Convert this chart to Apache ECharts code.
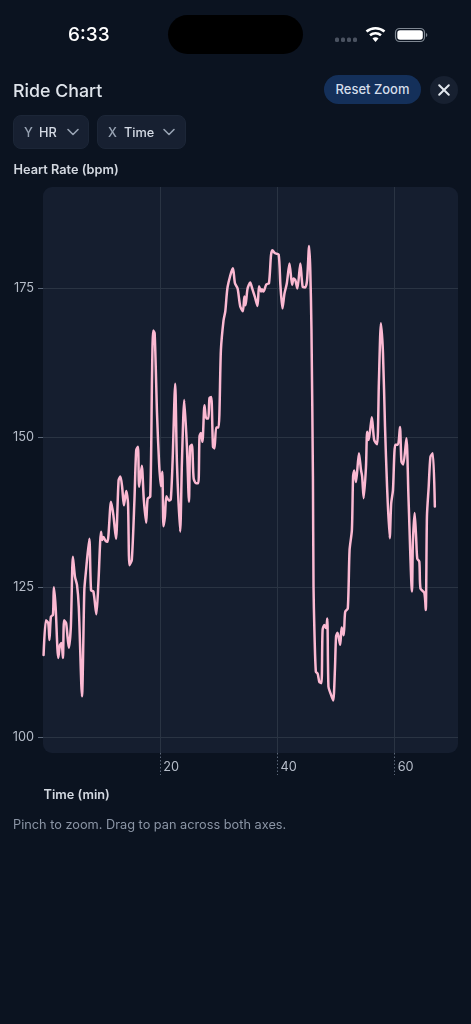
<!DOCTYPE html>
<html><head><meta charset="utf-8">
<style>
html,body{margin:0;padding:0;width:471px;height:1024px;background:#0b1320;overflow:hidden;font-family:Inter,"Noto Sans",sans-serif}
.a{position:absolute;white-space:nowrap}
#plot{left:43px;top:187px;width:415px;height:566px;background:#151e2f;border-radius:9px}
#chart{position:absolute;left:0;top:0;width:471px;height:1024px}
.dd{background:#172031;border:1px solid #1c2637;box-sizing:border-box;border-radius:8px;top:115px;height:34px}
.dd span{position:absolute;top:9px;font-size:12.75px;line-height:16px;font-weight:500;color:#d5dbe5}
.dd span.k{color:#98a3b3}
</style></head><body>
<div class="a" id="plot"></div>
<div id="chart"></div>
<div class="a" style="left:68px;top:23px;font-size:19px;line-height:24px;font-weight:500;color:#fff">6:33</div>
<div class="a" style="left:168px;top:15px;width:135px;height:39px;border-radius:20px;background:#000"></div>
<svg class="a" style="left:333px;top:24px" width="100" height="22" viewBox="0 0 100 22">
<g fill="#4a5260"><rect x="2" y="13.5" width="4" height="4.5" rx="1.5"/><rect x="8" y="13.5" width="4" height="4.5" rx="1.5"/><rect x="14" y="13.5" width="4" height="4.5" rx="1.5"/><rect x="20" y="13.5" width="4" height="4.5" rx="1.5"/></g>
<g fill="none" stroke="#fff" stroke-width="2.6"><path d="M33.5 7.5a14 14 0 0 1 18 0"/><path d="M37 11.3a8.6 8.6 0 0 1 11 0"/></g>
<path d="M39.5 14.6a4.2 4.2 0 0 1 6 0L42.5 18z" fill="#fff"/>
<rect x="62.5" y="4.5" width="29" height="13" rx="4.2" fill="none" stroke="#7f8792" stroke-width="1.2"/>
<rect x="64.3" y="6.2" width="25.5" height="9.6" rx="2.8" fill="#fff"/>
<path d="M93 9v4a2 2 0 0 0 1.3-2 2 2 0 0 0-1.3-2z" fill="#7f8792"/></svg>
<div class="a" style="left:13px;top:79.5px;font-size:17.8px;line-height:22px;font-weight:500;color:#dfe4eb">Ride Chart</div>
<div class="a" style="left:324px;top:75px;width:97px;height:29px;border-radius:15px;background:#14305a;color:#d5deea;font-size:13px;font-weight:500;line-height:29px;text-align:center">Reset Zoom</div>
<div class="a" style="left:430px;top:76px;width:28px;height:28px;border-radius:14px;background:#172030"></div>
<svg class="a" style="left:430px;top:76px" width="28" height="28"><path d="M9.2 9.2l9.6 9.6M18.8 9.2l-9.6 9.6" stroke="#e2e7ee" stroke-width="2" stroke-linecap="round"/></svg>
<div class="a dd" style="left:13px;width:76px"><span class="k" style="left:10px">Y</span><span style="left:25px">HR</span>
<svg class="a" style="left:52px;top:10px" width="14" height="12"><path d="M2 3.5l5 5 5-5" fill="none" stroke="#98a3b3" stroke-width="1.6" stroke-linecap="round" stroke-linejoin="round"/></svg></div>
<div class="a dd" style="left:97px;width:89px"><span class="k" style="left:10px">X</span><span style="left:26px">Time</span>
<svg class="a" style="left:64px;top:10px" width="14" height="12"><path d="M2 3.5l5 5 5-5" fill="none" stroke="#98a3b3" stroke-width="1.6" stroke-linecap="round" stroke-linejoin="round"/></svg></div>
<div class="a" style="left:13.5px;top:161.5px;font-size:12.75px;line-height:16px;font-weight:600;color:#d3d8e0">Heart Rate (bpm)</div>
<div class="a" style="left:43.5px;top:787px;font-size:12.75px;line-height:16px;font-weight:600;color:#d3d8e0">Time (min)</div>
<div class="a" style="left:13px;top:816px;font-size:12.75px;line-height:17px;color:#8b95a5">Pinch to zoom. Drag to pan across both axes.</div>
<script src="https://cdn.jsdelivr.net/npm/echarts@6/dist/echarts.min.js"></script>
<script>
const timeMin=[0.1,0.5,0.9,1.1,1.35,1.7,1.85,2.15,2.6,2.9,3.15,3.4,3.6,3.95,4.4,4.75,5.1,5.45,5.8,6.1,6.65,7.05,7.3,7.9,8.2,8.6,9.1,9.45,9.9,10.1,10.3,10.65,11,11.6,12,12.45,12.9,13.2,13.5,13.8,14.2,14.5,14.75,15.15,15.6,15.9,16.2,16.4,16.85,17.2,17.6,17.85,18.3,18.6,18.8,19.05,19.45,19.8,20.1,20.35,20.55,20.8,21.05,21.5,21.8,22.1,22.55,22.85,23.4,23.7,24.1,24.55,24.9,25.1,25.4,25.7,26.1,26.5,26.7,26.95,27.2,27.55,27.85,28.2,28.4,28.7,29,29.25,29.55,29.95,30.35,30.8,31.1,31.5,32.4,32.75,33.2,33.65,34.1,34.35,34.55,34.9,35.35,35.7,36.15,36.6,36.85,37.2,37.35,37.6,38.1,38.55,38.9,39.15,39.6,40.2,40.5,40.85,41.2,41.6,42.05,42.5,42.75,43.05,43.4,43.9,44.3,44.75,45.05,45.4,45.6,45.8,46.05,46.15,46.3,46.55,46.85,47.15,47.5,47.7,48,48.3,48.5,48.7,49.05,49.5,49.8,50,50.25,50.7,50.95,51.3,51.55,52,52.3,52.7,52.9,53.1,53.4,53.9,54.25,54.45,54.7,55.1,55.3,55.55,55.8,56.1,56.5,57,57.3,57.65,58,58.35,58.7,59.15,59.4,59.7,60.1,60.55,60.9,61.15,61.45,62,62.35,62.95,63.1,63.4,63.65,63.85,64.2,64.4,65.05,65.3,65.5,65.8,66.1,66.5,66.85];
const heartRate=[113.7,119.5,119,116.2,120.1,120.4,125,121.8,113.2,115.4,115.7,113.2,119.5,119,114.9,118.4,130.1,126.8,125.4,121.8,106.8,124.5,127.4,133.1,124.5,124.3,120.5,125.7,134.3,132.9,133.4,132.8,132.6,139.3,137.1,133.1,142.9,143.5,141.8,138.7,141.1,139.1,128.7,129.6,139.6,147.9,148.5,141.8,145.3,139.6,135.8,139.8,140.2,160.2,167.9,167.4,154.1,145.8,141.9,144.3,135.2,136.8,140.2,139.5,139.7,145.8,159,145.8,134.3,145.8,156.3,148.5,139.3,148.5,148.8,143.2,142.4,142.4,150.2,150.8,149.3,155.4,153.2,153.2,156.6,156.8,148.5,148.2,151.7,151.7,164.6,169.6,171.1,175.2,178.3,175.8,174.9,171.9,171.1,173.6,172.1,174.9,175.9,174.9,173.5,172,175.3,174.4,174.8,174.4,175.6,175.8,180.5,181.3,180.8,180.6,175.5,171.6,174.1,175.8,179.1,175.5,176.6,176.3,174.9,179.1,175.2,175.1,176.3,182,178,168,143.5,125.1,117.9,110.9,110.6,109.2,109,117.9,118.7,118.2,119.8,108.4,107.3,106.1,111.2,116.8,117.4,115.4,118.3,117,120.9,121.5,131.2,134.6,143.5,144.5,142.6,147.4,144.6,143.5,139.9,145.1,151,149.6,151.2,153.4,149.6,148.9,159.1,169.1,164.1,151.8,141.8,133.2,139,141.2,148.8,148.8,151.8,146,145.5,149.9,140.1,124.3,132.4,137.4,133.5,129.8,129.3,124.8,124.1,121.2,136.8,141.8,146.8,147.4,138.5];
const xTicks=[20,40,60];
const yTicks=[100,125,150,175];
const series=timeMin.map((t,i)=>[t,heartRate[i]]);
const gridC='#2a3443';
const chart=echarts.init(document.getElementById('chart'),null,{renderer:'canvas'});
chart.setOption({
 backgroundColor:'transparent',animation:false,
 grid:{left:43,top:187,width:415,height:566,show:false},
 xAxis:{type:'value',min:0,max:70.8,
  axisLine:{show:false},
  axisTick:{show:true,length:22,customValues:xTicks,lineStyle:{color:'#5b6677',type:[1.5,2],width:1}},
  axisLabel:{show:true,customValues:xTicks,align:'left',margin:8,padding:[0,0,0,3],color:'#b6bdc9',fontSize:12.75,fontFamily:'Inter'},
  splitLine:{show:true,lineStyle:{color:gridC,width:1}}},
 yAxis:{type:'value',min:97.33,max:191.87,
  axisLine:{show:false},
  axisTick:{show:true,length:5,customValues:yTicks,lineStyle:{color:'#5b6677',width:1}},
  axisLabel:{show:true,customValues:yTicks,margin:9,padding:[2,0,0,0],color:'#b6bdc9',fontSize:12.75,fontFamily:'Inter'},
  splitLine:{show:true,lineStyle:{color:gridC,width:1}}},
 series:[{type:'line',data:series,showSymbol:false,smooth:0.25,lineStyle:{color:'#fbb9d2',width:2.5,join:'round',cap:'round'},clip:true}]
});
</script>
</body></html>
